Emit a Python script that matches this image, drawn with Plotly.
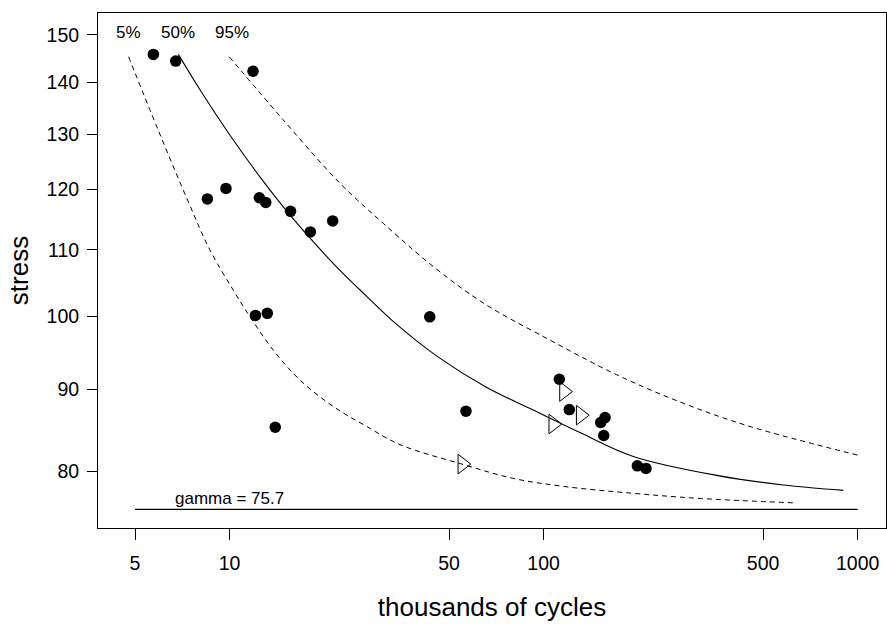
import numpy as np
import plotly.graph_objects as go

# failures (filled dots): thousands of cycles, stress
fail_cycles = [5.72, 6.74, 11.88, 8.50, 9.74, 12.44, 13.04, 15.64, 18.08, 21.30,
               12.09, 13.19, 13.98, 43.4, 56.6, 112.2, 120.7, 156.9, 152.0, 155.4,
               198.8, 211.8]
fail_stress = [145.8, 144.4, 142.3, 118.4, 120.2, 118.6, 117.8, 116.3, 112.9, 114.7,
               100.1, 100.4, 85.2, 99.9, 87.2, 91.3, 87.4, 86.4, 85.8, 84.2,
               80.6, 80.3]

# runouts (open right triangles)
runout_cycles = [55.1, 107.3, 116.1, 131.2]
runout_stress = [80.8, 85.6, 89.7, 86.7]

# quantile curves
q50_cycles = [6.87, 8.10, 9.92, 12.58, 15.12, 17.33, 21.67, 26.09, 32.91, 46.1,
              65.5, 92.0, 131.5, 193.0, 355.7, 579.8, 900.0]
q50_stress = [145.8, 138.3, 130.2, 122.0, 116.5, 112.9, 107.6, 103.8, 99.4, 94.3,
              90.3, 87.4, 84.5, 81.7, 79.5, 78.4, 77.8]

q05_cycles = [4.77, 5.92, 7.35, 8.66, 10.28, 11.62, 13.79, 16.76, 21.39, 27.34,
              34.89, 55.5, 80.06, 115.5, 188.4, 314.8, 639.4]
q05_stress = [145.3, 130.8, 118.2, 110.0, 103.8, 99.9, 95.2, 91.2, 87.8, 85.3,
              83.1, 80.75, 79.15, 78.25, 77.5, 76.9, 76.4]

q95_cycles = [9.98, 14.81, 22.47, 30.87, 44.55, 64.3, 104.8, 170.9, 278.5, 454.1, 1000.0]
q95_stress = [145.3, 132.7, 121.1, 114.3, 107.4, 101.9, 96.6, 91.9, 88.2, 85.3, 81.85]

gamma_cycles = [5, 1000]
gamma_value = 75.7

label_text = ["5%", "50%", "95%"]
label_cycles = [4.75, 6.85, 10.2]
label_stress = 150.5

x_ticks = [5, 10, 50, 100, 500, 1000]
y_ticks = [80, 90, 100, 110, 120, 130, 140, 150]

FONT = "Liberation Sans, Arial, Helvetica, sans-serif"

fig = go.Figure()

fig.add_trace(go.Scatter(x=q05_cycles, y=q05_stress, mode="lines",
                         line=dict(color="black", width=1, dash="5px,4px", shape="spline"),
                         showlegend=False, hoverinfo="skip"))
fig.add_trace(go.Scatter(x=q50_cycles, y=q50_stress, mode="lines",
                         line=dict(color="black", width=1.1, shape="spline"),
                         showlegend=False, hoverinfo="skip"))
fig.add_trace(go.Scatter(x=q95_cycles, y=q95_stress, mode="lines",
                         line=dict(color="black", width=1, dash="5px,4px", shape="spline"),
                         showlegend=False, hoverinfo="skip"))
fig.add_trace(go.Scatter(x=gamma_cycles, y=[gamma_value] * len(gamma_cycles), mode="lines",
                         line=dict(color="black", width=1.1),
                         showlegend=False, hoverinfo="skip"))

fig.add_trace(go.Scatter(x=fail_cycles, y=fail_stress, mode="markers",
                         marker=dict(symbol="circle", size=11.5, color="black",
                                     line=dict(width=0)),
                         showlegend=False))
fig.add_trace(go.Scatter(x=runout_cycles, y=runout_stress, mode="markers",
                         marker=dict(symbol="triangle-right-open", size=17, color="black",
                                     line=dict(width=1, color="black")),
                         showlegend=False))

for t, xv in zip(label_text, label_cycles):
    fig.add_annotation(x=np.log10(xv), y=np.log10(label_stress), xref="x", yref="y",
                       text=t, showarrow=False, font=dict(family=FONT, size=17, color="black"))

fig.add_annotation(x=np.log10(10), y=np.log10(gamma_value), xref="x", yref="y",
                   text=f"gamma = {gamma_value}", showarrow=False, yanchor="bottom",
                   yshift=-1, font=dict(family=FONT, size=17, color="black"))

fig.update_layout(
    width=887, height=624,
    margin=dict(l=98, r=1, t=13, b=96),
    paper_bgcolor="white", plot_bgcolor="white",
    font=dict(family=FONT, color="black"),
    showlegend=False,
)
fig.update_xaxes(
    type="log", range=[0.58116, 3.09015], automargin=False,
    tickvals=x_ticks, ticktext=[str(v) for v in x_ticks],
    ticks="outside", ticklen=11, tickwidth=1, tickcolor="black",
    ticklabelstandoff=7,
    tickfont=dict(family=FONT, size=19.5, color="black"),
    showgrid=False, zeroline=False,
    showline=True, linecolor="black", linewidth=1, mirror=True,
    title=dict(text="thousands of cycles", font=dict(family=FONT, size=26, color="black"),
               standoff=24),
)
fig.update_yaxes(
    type="log", range=[1.86743, 2.18966], automargin=False,
    tickvals=y_ticks, ticktext=[str(v) for v in y_ticks],
    ticks="outside", ticklen=10, tickwidth=1, tickcolor="black",
    ticklabelstandoff=4,
    tickfont=dict(family=FONT, size=19.5, color="black"),
    showgrid=False, zeroline=False,
    showline=True, linecolor="black", linewidth=1, mirror=True,
    title=dict(text="stress", font=dict(family=FONT, size=26, color="black"),
               standoff=10),
)

# remove the browser's default 8px page margin so the figure sits at the window origin
fig.write_html("out.html", config={"displayModeBar": False},
               post_script=["document.body.style.margin='0px';"])
